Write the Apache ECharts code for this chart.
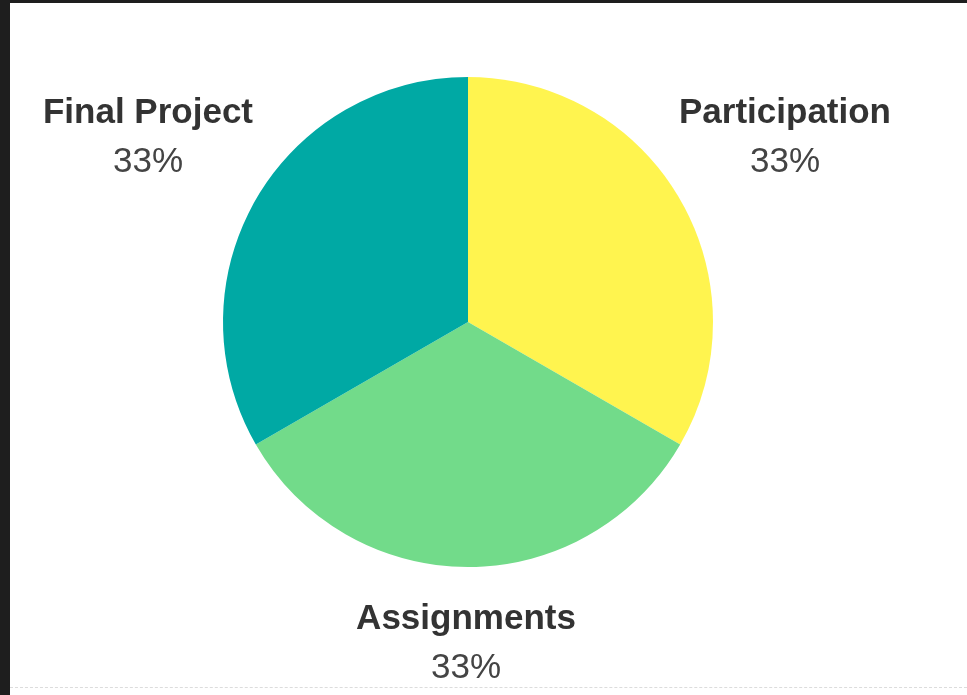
<!DOCTYPE html>
<html>
<head>
<meta charset="utf-8">
<title>Grade breakdown</title>
<script src="https://cdn.jsdelivr.net/npm/echarts@6/dist/echarts.min.js"></script>
<style>
  html, body { margin: 0; padding: 0; background: #1e1e1e; width: 967px; height: 695px; overflow: hidden; }
  #chart { position: absolute; left: 10px; top: 3px; width: 957px; height: 692px; background: #ffffff; }
  #rule { position: absolute; left: 10px; top: 687px; width: 957px; border-top: 1px dashed #dcdcdc; }
</style>
</head>
<body>
<div id="chart"></div>
<div id="rule"></div>
<script>
// grade weights, clockwise from the top
var categories = ['Participation', 'Assignments', 'Final Project']
var weights = [1, 1, 1]
var colors = ['#fff44f', '#72db8a', '#00a9a4']

// where each label sits, relative to the pie centre
var labelOffsets = {
  'Participation': [317, -184],
  'Assignments': [-2, 322],
  'Final Project': [-320, -184]
}

var cx = 458, cy = 319

var chart = echarts.init(document.getElementById('chart'), null, { renderer: 'canvas' })

var option = {
  animation: false,
  color: colors,
  series: [{
    type: 'pie',
    center: [cx, cy],
    radius: [0, 245],
    startAngle: 90,
    clockwise: true,
    silent: true,
    data: categories.map(function (c, i) {
      return { name: c, value: weights[i] }
    }),
    itemStyle: { borderWidth: 0 },
    label: {
      show: true,
      position: 'outside',
      overflow: 'none',
      width: 400,
      formatter: function (p) {
        return '{name|' + p.name + '}\n{pct|' + Math.round(p.percent) + '%}'
      },
      rich: {
        name: { fontFamily: 'Liberation Sans', fontSize: 35, fontWeight: 'bold', color: '#333333', lineHeight: 49, align: 'center' },
        pct: { fontFamily: 'Liberation Sans', fontSize: 35, color: '#444444', lineHeight: 49, align: 'center' }
      }
    },
    labelLine: { show: false },
    labelLayout: function (params) {
      var name = categories[params.dataIndex]
      var off = labelOffsets[name]
      return {
        x: cx + off[0],
        y: cy + off[1],
        align: 'center',
        verticalAlign: 'middle'
      }
    }
  }]
}

chart.setOption(option)
</script>
</body>
</html>
